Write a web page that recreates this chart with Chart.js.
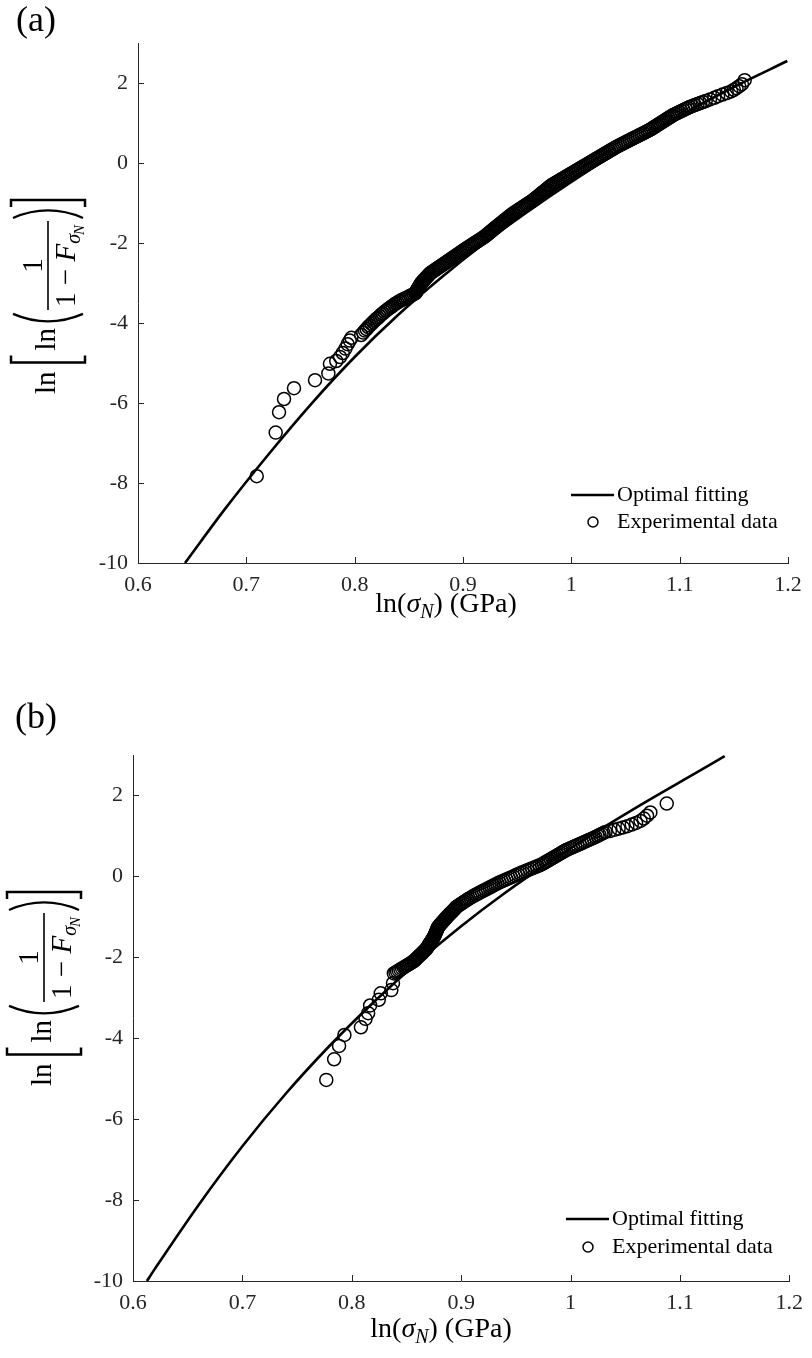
<!DOCTYPE html>
<html lang="en">
<head>
<meta charset="UTF-8">
<title>Weibull plots of nominal strength</title>
<script src="https://cdn.jsdelivr.net/npm/chart.js"></script>
<style>
  body { margin: 0; background: #fff; }
  canvas { position: absolute; left: 0; }
</style>
</head>
<body>
<canvas id="chartA" width="812" height="680" style="top:0"></canvas>
<canvas id="chartB" width="812" height="678" style="top:680px"></canvas>
<script>
// axis ticks shared by both panels
const xTicks = [0.6, 0.7, 0.8, 0.9, 1, 1.1, 1.2];
const yTicks = [-10, -8, -6, -4, -2, 0, 2];
const legendLabels = ['Optimal fitting', 'Experimental data'];

// panel (a): fitted curve and measured points, [ln(sigma), ln(ln(1/(1-F)))]
const fitA = [[0.6434,-10],[0.68,-8.66],[0.72,-7.30],[0.76,-6.02],[0.80,-4.85],[0.84,-3.80],[0.88,-2.86],
  [0.92,-2.00],[0.96,-1.21],[1.00,-0.47],[1.05,0.39],[1.10,1.18],[1.15,1.90],[1.1994,2.55]];
const expA = [[0.7096,-7.83],[0.7271,-6.74],[0.7302,-6.23],[0.7348,-5.90],[0.7440,-5.63],[0.7634,-5.43],
  [0.7757,-5.26],[0.7772,-5.02],[0.7830,-4.95],[0.7865,-4.85],[0.7890,-4.75],[0.7915,-4.64],[0.7935,-4.53],
  [0.7955,-4.44],[0.7970,-4.37],[0.8060,-4.30],[0.8080,-4.24],[0.8095,-4.19],[0.8110,-4.15],[0.8125,-4.10],
  [0.8140,-4.06],[0.8155,-4.02],[0.8170,-3.98],[0.8185,-3.94],[0.8200,-3.90],[0.8215,-3.87],[0.8230,-3.83],
  [0.8245,-3.79],[0.8260,-3.76],[0.8275,-3.72],[0.8290,-3.69],[0.8305,-3.66],[0.8320,-3.63],[0.8335,-3.60],
  [0.8350,-3.57],[0.8365,-3.54],[0.8380,-3.51],[0.8395,-3.49],[0.8410,-3.46],[0.8425,-3.44],[0.8440,-3.42],
  [0.8455,-3.40],[0.8470,-3.38],[0.8485,-3.36],[0.8500,-3.34],[0.8515,-3.32],[0.8530,-3.30],[0.8546,-3.275],
  [0.8561,-3.25],[0.8567,-3.225],[0.8572,-3.20],[0.8577,-3.175],[0.8582,-3.15],[0.8588,-3.125],[0.8593,-3.10],
  [0.8599,-3.075],[0.8604,-3.05],[0.8610,-3.025],[0.8615,-3.00],[0.8624,-2.975],[0.8632,-2.95],[0.8640,-2.925],
  [0.8648,-2.90],[0.8657,-2.875],[0.8665,-2.85],[0.8674,-2.825],[0.8682,-2.80],[0.8691,-2.775],[0.8700,-2.75],
  [0.8714,-2.725],[0.8727,-2.70],[0.8741,-2.675],[0.8754,-2.65],[0.8768,-2.625],[0.8781,-2.60],[0.8795,-2.575],
  [0.8808,-2.55],[0.8822,-2.525],[0.8835,-2.50],[0.8849,-2.475],[0.8862,-2.45],[0.8876,-2.425],[0.8889,-2.40],
  [0.8903,-2.375],[0.8916,-2.35],[0.8930,-2.325],[0.8943,-2.30],[0.8957,-2.275],[0.8970,-2.25],[0.8983,-2.225],
  [0.8996,-2.20],[0.9010,-2.175],[0.9023,-2.15],[0.9037,-2.125],[0.9051,-2.10],[0.9066,-2.075],[0.9080,-2.05],
  [0.9094,-2.025],[0.9108,-2.00],[0.9123,-1.975],[0.9137,-1.95],[0.9152,-1.925],[0.9166,-1.90],[0.9180,-1.875],
  [0.9194,-1.85],[0.9206,-1.825],[0.9218,-1.80],[0.9229,-1.775],[0.9240,-1.75],[0.9251,-1.725],[0.9262,-1.70],
  [0.9273,-1.675],[0.9284,-1.65],[0.9295,-1.625],[0.9306,-1.60],[0.9318,-1.575],[0.9329,-1.55],[0.9341,-1.525],
  [0.9352,-1.50],[0.9364,-1.475],[0.9375,-1.45],[0.9387,-1.425],[0.9398,-1.40],[0.9410,-1.375],[0.9421,-1.35],
  [0.9433,-1.325],[0.9444,-1.30],[0.9457,-1.275],[0.9469,-1.25],[0.9483,-1.225],[0.9497,-1.20],[0.9511,-1.175],
  [0.9525,-1.15],[0.9539,-1.125],[0.9553,-1.10],[0.9567,-1.075],[0.9581,-1.05],[0.9595,-1.025],[0.9609,-1.00],
  [0.9623,-0.975],[0.9637,-0.95],[0.9650,-0.925],[0.9662,-0.90],[0.9673,-0.875],[0.9684,-0.85],[0.9696,-0.825],
  [0.9707,-0.80],[0.9718,-0.775],[0.9729,-0.75],[0.9741,-0.725],[0.9752,-0.70],[0.9764,-0.675],[0.9775,-0.65],
  [0.9786,-0.625],[0.9797,-0.60],[0.9809,-0.575],[0.9820,-0.55],[0.9836,-0.525],[0.9851,-0.50],[0.9867,-0.475],
  [0.9883,-0.45],[0.9899,-0.425],[0.9914,-0.40],[0.9930,-0.375],[0.9945,-0.35],[0.9961,-0.325],[0.9976,-0.30],
  [0.9992,-0.275],[1.0008,-0.25],[1.0024,-0.225],[1.0039,-0.20],[1.0055,-0.175],[1.0070,-0.15],[1.0086,-0.125],
  [1.0101,-0.10],[1.0117,-0.075],[1.0133,-0.05],[1.0149,-0.025],[1.0164,0.00],[1.0180,0.025],[1.0195,0.05],
  [1.0211,0.075],[1.0226,0.10],[1.0242,0.125],[1.0258,0.15],[1.0274,0.175],[1.0289,0.20],[1.0305,0.225],
  [1.0320,0.25],[1.0336,0.275],[1.0351,0.30],[1.0367,0.325],[1.0383,0.35],[1.0399,0.375],[1.0414,0.40],
  [1.0432,0.425],[1.0449,0.45],[1.0468,0.475],[1.0486,0.50],[1.0504,0.525],[1.0522,0.55],[1.0540,0.575],
  [1.0558,0.60],[1.0577,0.625],[1.0595,0.65],[1.0613,0.675],[1.0631,0.70],[1.0650,0.725],[1.0668,0.75],
  [1.0686,0.775],[1.0704,0.80],[1.0721,0.825],[1.0738,0.85],[1.0752,0.875],[1.0766,0.90],[1.0781,0.925],
  [1.0795,0.95],[1.0810,0.975],[1.0824,1.00],[1.0839,1.025],[1.0853,1.05],[1.0868,1.075],[1.0882,1.10],
  [1.0897,1.125],[1.0911,1.15],[1.0926,1.175],[1.0940,1.20],[1.0959,1.225],[1.0978,1.25],[1.0997,1.275],
  [1.1016,1.30],[1.1035,1.325],[1.1054,1.35],[1.1073,1.375],[1.1092,1.40],[1.1116,1.425],[1.1140,1.45],
  [1.1165,1.475],[1.1190,1.50],[1.1215,1.525],[1.1240,1.55],[1.1280,1.59],[1.1320,1.63],[1.1355,1.67],
  [1.1395,1.71],[1.1435,1.75],[1.1475,1.79],[1.1500,1.83],[1.1525,1.87],[1.1550,1.92],[1.1575,1.97],
  [1.1600,2.07]];

// panel (b)
const fitB = [[0.6127,-10],[0.62,-9.70],[0.66,-8.12],[0.70,-6.67],[0.74,-5.36],[0.78,-4.18],[0.82,-3.11],
  [0.86,-2.13],[0.90,-1.23],[0.94,-0.41],[0.98,0.34],[1.02,1.04],[1.06,1.70],[1.10,2.33],[1.141,2.97]];
const expB = [[0.7767,-5.03],[0.7839,-4.52],[0.7884,-4.19],[0.7933,-3.92],[0.8084,-3.73],[0.8126,-3.52],
  [0.8150,-3.38],[0.8168,-3.19],[0.8247,-3.05],[0.8265,-2.89],[0.8362,-2.81],[0.8377,-2.64],[0.8385,-2.40],
  [0.8400,-2.375],[0.8415,-2.35],[0.8430,-2.325],[0.8445,-2.30],[0.8460,-2.275],[0.8475,-2.25],[0.8490,-2.225],
  [0.8505,-2.20],[0.8520,-2.175],[0.8535,-2.15],[0.8550,-2.125],[0.8565,-2.10],[0.8575,-2.075],[0.8584,-2.05],
  [0.8594,-2.025],[0.8603,-2.00],[0.8613,-1.975],[0.8622,-1.95],[0.8632,-1.925],[0.8642,-1.90],[0.8652,-1.875],
  [0.8661,-1.85],[0.8671,-1.825],[0.8680,-1.80],[0.8686,-1.775],[0.8692,-1.75],[0.8698,-1.725],[0.8703,-1.70],
  [0.8709,-1.675],[0.8715,-1.65],[0.8721,-1.625],[0.8727,-1.60],[0.8733,-1.575],[0.8738,-1.55],[0.8744,-1.525],
  [0.8750,-1.50],[0.8754,-1.475],[0.8758,-1.45],[0.8762,-1.425],[0.8766,-1.40],[0.8770,-1.375],[0.8774,-1.35],
  [0.8778,-1.325],[0.8782,-1.30],[0.8786,-1.275],[0.8790,-1.25],[0.8798,-1.225],[0.8806,-1.20],[0.8814,-1.175],
  [0.8822,-1.15],[0.8830,-1.125],[0.8838,-1.10],[0.8846,-1.075],[0.8854,-1.05],[0.8862,-1.025],[0.8870,-1.00],
  [0.8879,-0.975],[0.8888,-0.95],[0.8897,-0.925],[0.8906,-0.90],[0.8915,-0.875],[0.8924,-0.85],[0.8933,-0.825],
  [0.8942,-0.80],[0.8951,-0.775],[0.8960,-0.75],[0.8974,-0.725],[0.8988,-0.70],[0.9002,-0.675],[0.9015,-0.65],
  [0.9029,-0.625],[0.9043,-0.60],[0.9057,-0.575],[0.9070,-0.55],[0.9087,-0.525],[0.9103,-0.50],[0.9120,-0.475],
  [0.9137,-0.45],[0.9154,-0.425],[0.9170,-0.40],[0.9188,-0.375],[0.9206,-0.35],[0.9224,-0.325],[0.9242,-0.30],
  [0.9260,-0.275],[0.9278,-0.25],[0.9296,-0.225],[0.9314,-0.20],[0.9332,-0.175],[0.9350,-0.15],[0.9371,-0.125],
  [0.9392,-0.10],[0.9413,-0.075],[0.9434,-0.05],[0.9455,-0.025],[0.9476,0.00],[0.9497,0.025],[0.9518,0.05],
  [0.9539,0.075],[0.9560,0.10],[0.9583,0.125],[0.9605,0.15],[0.9628,0.175],[0.9650,0.20],[0.9673,0.225],
  [0.9695,0.25],[0.9718,0.275],[0.9740,0.30],[0.9756,0.325],[0.9771,0.35],[0.9787,0.375],[0.9803,0.40],
  [0.9819,0.425],[0.9834,0.45],[0.9850,0.475],[0.9866,0.50],[0.9882,0.525],[0.9897,0.55],[0.9913,0.575],
  [0.9929,0.60],[0.9945,0.625],[0.9960,0.65],[0.9981,0.675],[1.0002,0.70],[1.0023,0.725],[1.0043,0.75],
  [1.0064,0.775],[1.0085,0.80],[1.0106,0.825],[1.0127,0.85],[1.0148,0.875],[1.0168,0.90],[1.0189,0.925],
  [1.0210,0.95],[1.0229,0.975],[1.0247,1.00],[1.0265,1.025],[1.0283,1.05],[1.0302,1.075],[1.0320,1.10],
  [1.0360,1.12],[1.0400,1.15],[1.0440,1.18],[1.0480,1.21],[1.0520,1.24],[1.0560,1.28],[1.0600,1.32],
  [1.0640,1.37],[1.0670,1.43],[1.0700,1.50],[1.0730,1.58],[1.0880,1.80]];

const SERIF = '"Liberation Serif", "Times New Roman", serif';
const AXIS_COLOR = '#262626';

function toPoints(pairs) {
  return pairs.map(p => ({ x: p[0], y: p[1] }));
}

// ln[ ln( 1 / (1 - F_sigmaN) ) ], written bottom-to-top; ax = x of the fraction bar, by = start of text
function drawYTitle(ctx, ax, by) {
  const F = 29;
  const up = F + 'px ' + SERIF;
  const it = 'italic ' + F + 'px ' + SERIF;
  const sub1 = 'italic ' + Math.round(F * 0.7) + 'px ' + SERIF;
  const sub2 = 'italic ' + Math.round(F * 0.5) + 'px ' + SERIF;
  ctx.save();
  ctx.translate(ax, by);
  ctx.rotate(-Math.PI / 2);
  ctx.fillStyle = '#000';
  ctx.strokeStyle = '#000';
  ctx.textAlign = 'left';
  ctx.textBaseline = 'alphabetic';
  ctx.lineCap = 'butt';

  ctx.font = up;
  let x = 0;
  ctx.fillText('ln', x, 7);
  x += ctx.measureText('ln').width + 9;

  // [
  ctx.lineWidth = 2.5;
  ctx.beginPath();
  ctx.moveTo(x + 7, -37); ctx.lineTo(x, -37); ctx.lineTo(x, 37); ctx.lineTo(x + 7, 37);
  ctx.stroke();
  x += 12;

  ctx.fillText('ln', x, 7);
  x += ctx.measureText('ln').width + 3;

  // (
  ctx.lineWidth = 2.3;
  ctx.beginPath();
  ctx.moveTo(x + 11, -35); ctx.quadraticCurveTo(x - 4, 0, x + 11, 35);
  ctx.stroke();
  x += 15;

  // fraction 1 / (1 - F_sigmaN)
  ctx.font = up;
  const w1 = ctx.measureText('1').width;
  const wm = ctx.measureText(' \u2212 ').width;
  ctx.font = it;
  const wF = ctx.measureText('F').width;
  ctx.font = sub1;
  const wS = ctx.measureText('\u03C3').width;
  ctx.font = sub2;
  const wN = ctx.measureText('N').width;
  const bar = w1 + wm + wF + wS + wN + 6;

  ctx.lineWidth = 1.6;
  ctx.beginPath();
  ctx.moveTo(x, 0); ctx.lineTo(x + bar, 0);
  ctx.stroke();

  ctx.font = up;
  ctx.fillText('1', x + (bar - w1) / 2, -6);
  let dx = x + 3;
  ctx.fillText('1', dx, 27); dx += w1;
  ctx.fillText(' \u2212 ', dx, 27); dx += wm;
  ctx.font = it;
  ctx.fillText('F', dx, 27); dx += wF;
  ctx.font = sub1;
  ctx.fillText('\u03C3', dx, 32); dx += wS;
  ctx.font = sub2;
  ctx.fillText('N', dx - 1, 36);
  x += bar + 3;

  // )
  ctx.lineWidth = 2.3;
  ctx.beginPath();
  ctx.moveTo(x, -35); ctx.quadraticCurveTo(x + 15, 0, x, 35);
  ctx.stroke();
  x += 18;

  // ]
  ctx.lineWidth = 2.5;
  ctx.beginPath();
  ctx.moveTo(x - 7, -37); ctx.lineTo(x, -37); ctx.lineTo(x, 37); ctx.lineTo(x - 7, 37);
  ctx.stroke();
  ctx.restore();
}

// ln(sigma_N) (GPa), centred on cx
function drawXTitle(ctx, cx, base) {
  const F = 28;
  const parts = [
    ['ln(', F + 'px ' + SERIF, 0],
    ['\u03C3', 'italic ' + F + 'px ' + SERIF, 0],
    ['N', 'italic ' + Math.round(F * 0.7) + 'px ' + SERIF, 6],
    [') (GPa)', F + 'px ' + SERIF, 0]
  ];
  ctx.save();
  ctx.fillStyle = '#000';
  ctx.textAlign = 'left';
  ctx.textBaseline = 'alphabetic';
  let total = 0;
  parts.forEach(p => { ctx.font = p[1]; total += ctx.measureText(p[0]).width; });
  let x = cx - total / 2;
  parts.forEach(p => {
    ctx.font = p[1];
    ctx.fillText(p[0], x, base + p[2]);
    x += ctx.measureText(p[0]).width;
  });
  ctx.restore();
}

function drawLegend(ctx, lx, y1, y2) {
  ctx.save();
  ctx.strokeStyle = '#000';
  ctx.fillStyle = '#000';
  ctx.lineWidth = 2.6;
  ctx.beginPath();
  ctx.moveTo(lx, y1); ctx.lineTo(lx + 43, y1);
  ctx.stroke();
  ctx.lineWidth = 1.5;
  ctx.beginPath();
  ctx.arc(lx + 22, y2, 5, 0, Math.PI * 2);
  ctx.stroke();
  ctx.font = '22px ' + SERIF;
  ctx.textAlign = 'left';
  ctx.textBaseline = 'middle';
  ctx.fillText(legendLabels[0], lx + 46, y1);
  ctx.fillText(legendLabels[1], lx + 46, y2);
  ctx.restore();
}

// inward ticks, titles, legend and panel letter
const decor = {
  id: 'decor',
  afterDraw(chart, args, o) {
    const ctx = chart.ctx;
    const { left, bottom } = chart.chartArea;
    const xs = chart.scales.x;
    const ys = chart.scales.y;
    ctx.save();
    ctx.strokeStyle = AXIS_COLOR;
    ctx.lineWidth = 1;
    ctx.beginPath();
    xTicks.forEach(v => {
      const px = Math.round(xs.getPixelForValue(v)) + 0.5;
      ctx.moveTo(px, bottom); ctx.lineTo(px, bottom - 6);
    });
    yTicks.forEach(v => {
      const py = Math.round(ys.getPixelForValue(v)) + 0.5;
      ctx.moveTo(left, py); ctx.lineTo(left + 6, py);
    });
    ctx.stroke();
    ctx.restore();

    drawYTitle(ctx, o.yTitle[0], o.yTitle[1]);
    drawXTitle(ctx, o.xTitle[0], o.xTitle[1]);
    drawLegend(ctx, o.legend[0], o.legend[1], o.legend[2]);

    ctx.save();
    ctx.fillStyle = '#000';
    ctx.font = '36px ' + SERIF;
    ctx.textAlign = 'left';
    ctx.textBaseline = 'alphabetic';
    ctx.fillText(o.letter[0], o.letter[1], o.letter[2]);
    ctx.restore();
  }
};

function makePanel(id, fit, exp, g) {
  const canvas = document.getElementById(id);
  const H = canvas.height;
  return new Chart(canvas, {
    type: 'scatter',
    data: {
      datasets: [
        {
          label: legendLabels[0],
          data: toPoints(fit),
          showLine: true,
          borderColor: '#000',
          borderWidth: 2.6,
          pointRadius: 0,
          cubicInterpolationMode: 'monotone',
          fill: false
        },
        {
          label: legendLabels[1],
          data: toPoints(exp),
          showLine: false,
          pointStyle: 'circle',
          pointRadius: 6.5,
          pointBorderWidth: 1.5,
          pointBorderColor: '#000',
          pointBackgroundColor: 'rgba(0,0,0,0)'
        }
      ]
    },
    options: {
      responsive: false,
      devicePixelRatio: 1,
      animation: false,
      layout: { padding: { left: 0, right: 812 - g.right, top: g.top, bottom: 0 } },
      plugins: {
        legend: { display: false },
        tooltip: { enabled: false },
        decor: g.decor
      },
      scales: {
        x: {
          type: 'linear',
          min: 0.6,
          max: 1.2,
          afterBuildTicks: s => { s.ticks = xTicks.map(v => ({ value: v })); },
          afterFit: s => { s.height = H - g.bottom; },
          grid: { display: false, drawTicks: false },
          border: { display: true, color: AXIS_COLOR, width: 1 },
          ticks: {
            autoSkip: false,
            maxRotation: 0,
            padding: 9,
            color: AXIS_COLOR,
            font: { family: SERIF, size: 22 },
            callback: v => String(v)
          }
        },
        y: {
          type: 'linear',
          min: -10,
          max: 3,
          afterBuildTicks: s => { s.ticks = yTicks.map(v => ({ value: v })); },
          afterFit: s => { s.width = g.left; },
          grid: { display: false, drawTicks: false },
          border: { display: true, color: AXIS_COLOR, width: 1 },
          ticks: {
            autoSkip: false,
            padding: 10,
            color: AXIS_COLOR,
            font: { family: SERIF, size: 22 },
            callback: v => String(v)
          }
        }
      }
    },
    plugins: [decor]
  });
}

makePanel('chartA', fitA, expA, {
  left: 138, right: 788, top: 43, bottom: 563,
  decor: { yTitle: [48, 394], xTitle: [446, 612], legend: [571, 495, 522], letter: ['(a)', 16, 31] }
});

makePanel('chartB', fitB, expB, {
  left: 133, right: 794, top: 75, bottom: 601,
  decor: { yTitle: [44, 406], xTitle: [441, 657], legend: [566, 539, 567], letter: ['(b)', 15, 48] }
});
</script>
</body>
</html>
